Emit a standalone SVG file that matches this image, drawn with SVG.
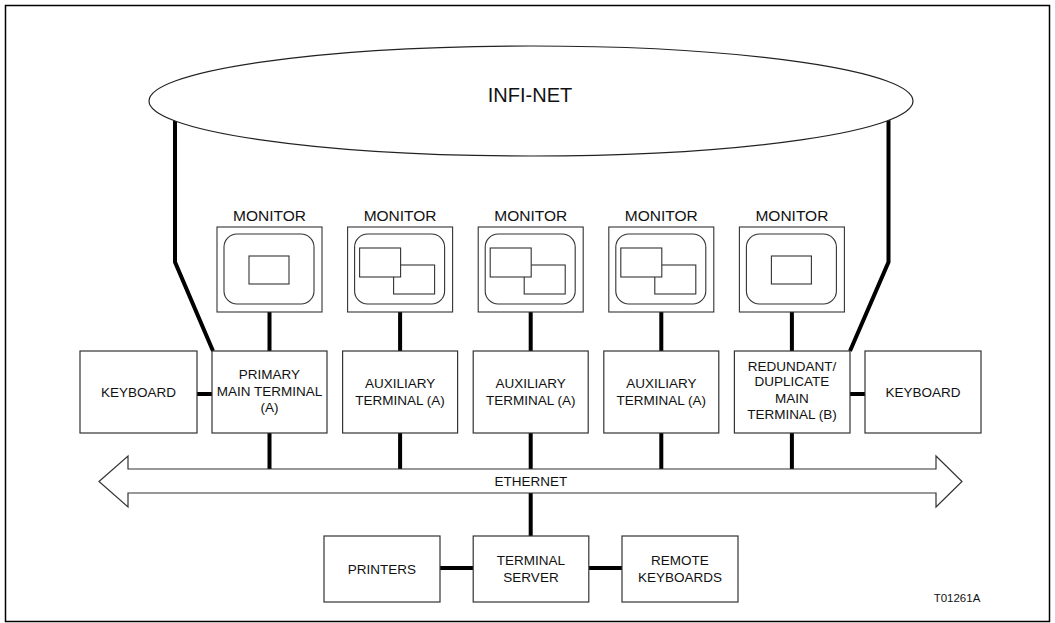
<svg xmlns="http://www.w3.org/2000/svg" width="1055" height="623" viewBox="0 0 1055 623">
<defs>
<style>
.box{fill:#fff;stroke:#333;stroke-width:1.2}
.thin{fill:#fff;stroke:#333;stroke-width:1.1}
.wire{fill:none;stroke:#000;stroke-width:4}
.t{font-family:"Liberation Sans",Arial,sans-serif;font-size:13.5px;fill:#111;text-anchor:middle}
.big{font-family:"Liberation Sans",Arial,sans-serif;font-size:20px;fill:#111;text-anchor:middle}
.small{font-family:"Liberation Sans",Arial,sans-serif;font-size:11.5px;fill:#111;text-anchor:middle}
</style>
<g id="scr-single">
<rect class="thin" x="0" y="0" width="105" height="85"/>
<rect class="thin" x="7" y="7" width="90" height="70" rx="13"/>
<rect class="thin" x="32" y="29" width="40" height="28"/>
</g>
<g id="scr-multi">
<rect class="thin" x="0" y="0" width="105" height="85"/>
<rect class="thin" x="7" y="7" width="90" height="70" rx="13"/>
<rect class="thin" x="46" y="38" width="41" height="29"/>
<rect class="thin" x="12" y="21" width="41" height="29"/>
</g>
</defs>
<rect x="5.5" y="5.5" width="1044" height="616" fill="#fff" stroke="#000" stroke-width="1.5"/>

<g id="connectors">
<path class="wire" d="M175,110 V262 L213,351"/>
<path class="wire" d="M888.5,110 V262 L850,351"/>
<path class="wire" d="M269.5,312 V351 M400.1,312 V351 M530.7,312 V351 M661.3,312 V351 M791.9,312 V351"/>
<path class="wire" d="M269.5,433 V469 M400.1,433 V469 M530.7,433 V469 M661.3,433 V469 M791.9,433 V469"/>
<path class="wire" d="M197,394 H212 M850,394 H865"/>
<path class="wire" d="M530.7,493 V536 M440,568 H473 M589,568 H622"/>
</g>

<g id="infinet">
<ellipse cx="531" cy="101" rx="382" ry="55" fill="#fff" stroke="#222" stroke-width="1.2"/>
<text class="big" x="530" y="102">INFI-NET</text>
</g>

<g id="monitor1"><text class="t" x="269.5" y="221" style="font-size:15.5px">MONITOR</text><use href="#scr-single" x="217" y="227"/></g>
<g id="monitor2"><text class="t" x="400.1" y="221" style="font-size:15.5px">MONITOR</text><use href="#scr-multi" x="347.6" y="227"/></g>
<g id="monitor3"><text class="t" x="530.7" y="221" style="font-size:15.5px">MONITOR</text><use href="#scr-multi" x="478.2" y="227"/></g>
<g id="monitor4"><text class="t" x="661.3" y="221" style="font-size:15.5px">MONITOR</text><use href="#scr-multi" x="608.8" y="227"/></g>
<g id="monitor5"><text class="t" x="791.9" y="221" style="font-size:15.5px">MONITOR</text><use href="#scr-single" x="739.4" y="227"/></g>

<g id="keyboard-left"><rect class="box" x="80" y="351" width="117" height="82"/><text class="t" x="138.5" y="397">KEYBOARD</text></g>
<g id="primary"><rect class="box" x="212" y="351" width="115" height="82"/>
<text class="t" x="269.5" y="379">PRIMARY</text><text class="t" x="269.5" y="396">MAIN TERMINAL</text><text class="t" x="269.5" y="412">(A)</text></g>
<g id="aux1"><rect class="box" x="342.6" y="351" width="115" height="82"/>
<text class="t" x="400.1" y="388">AUXILIARY</text><text class="t" x="400.1" y="405">TERMINAL (A)</text></g>
<g id="aux2"><rect class="box" x="473.2" y="351" width="115" height="82"/>
<text class="t" x="530.7" y="388">AUXILIARY</text><text class="t" x="530.7" y="405">TERMINAL (A)</text></g>
<g id="aux3"><rect class="box" x="603.8" y="351" width="115" height="82"/>
<text class="t" x="661.3" y="388">AUXILIARY</text><text class="t" x="661.3" y="405">TERMINAL (A)</text></g>
<g id="redundant"><rect class="box" x="734.4" y="351" width="115.6" height="82"/>
<text class="t" x="791.9" y="370.5">REDUNDANT/</text><text class="t" x="791.9" y="386">DUPLICATE</text><text class="t" x="791.9" y="402.5">MAIN</text><text class="t" x="791.9" y="419">TERMINAL (B)</text></g>
<g id="keyboard-right"><rect class="box" x="865" y="351" width="116" height="82"/><text class="t" x="923" y="397">KEYBOARD</text></g>

<g id="ethernet">
<polygon class="box" points="99,481.5 128,456 128,469 936,469 936,456 962,481.5 936,507 936,493 128,493 128,507"/>
<text class="t" x="531" y="486">ETHERNET</text>
</g>

<g id="printers"><rect class="box" x="324" y="536" width="116" height="66"/><text class="t" x="382" y="574">PRINTERS</text></g>
<g id="terminal-server"><rect class="box" x="473.2" y="536" width="115.6" height="66"/>
<text class="t" x="531" y="565">TERMINAL</text><text class="t" x="531" y="582">SERVER</text></g>
<g id="remote-keyboards"><rect class="box" x="622" y="536" width="116" height="66"/>
<text class="t" x="680" y="565">REMOTE</text><text class="t" x="680" y="582">KEYBOARDS</text></g>

<text class="small" x="957" y="602">T01261A</text>
</svg>
